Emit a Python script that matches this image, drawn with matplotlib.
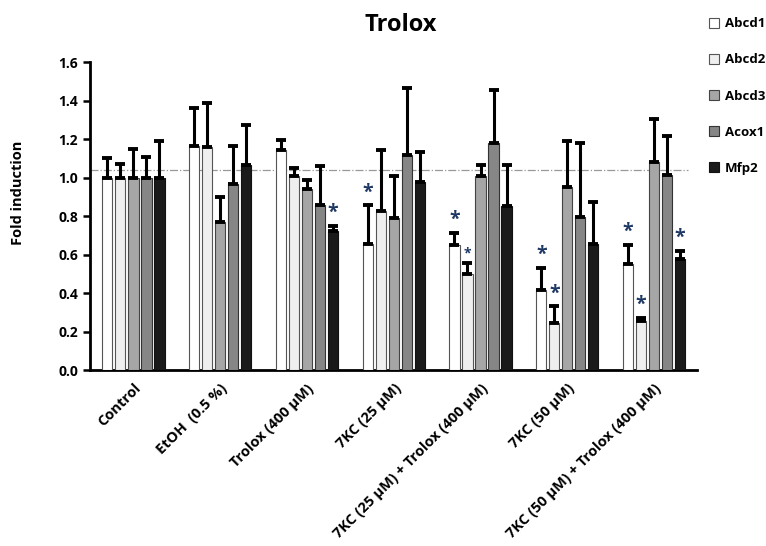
import numpy as np
import matplotlib.pyplot as plt
from matplotlib.patches import Patch

plt.rcParams['font.family'] = ['Open Sans', 'DejaVu Sans']

# conditions on the x axis
conditions = ['Control', 'EtOH  (0.5 %)', 'Trolox (400 µM)', '7KC (25 µM)',
              '7KC (25 µM) + Trolox (400 µM)', '7KC (50 µM)',
              '7KC (50 µM) + Trolox (400 µM)']
genes = ['Abcd1', 'Abcd2', 'Abcd3', 'Acox1', 'Mfp2']

# mean fold induction per gene (one value per condition)
abcd1 = [1.00, 1.165, 1.143, 0.658, 0.653, 0.419, 0.552]
abcd2 = [1.00, 1.16, 1.008, 0.826, 0.502, 0.244, 0.254]
abcd3 = [1.00, 0.77, 0.944, 0.791, 1.009, 0.952, 1.08]
acox1 = [1.00, 0.965, 0.857, 1.12, 1.179, 0.797, 1.013]
mfp2 = [1.00, 1.067, 0.724, 0.978, 0.854, 0.658, 0.578]

# upper error (SD)
abcd1_err = [0.10, 0.195, 0.052, 0.199, 0.062, 0.114, 0.099]
abcd2_err = [0.07, 0.23, 0.045, 0.32, 0.054, 0.088, 0.016]
abcd3_err = [0.15, 0.13, 0.046, 0.217, 0.059, 0.241, 0.224]
acox1_err = [0.11, 0.20, 0.203, 0.345, 0.276, 0.384, 0.204]
mfp2_err = [0.19, 0.209, 0.024, 0.158, 0.214, 0.216, 0.042]

# significance stars: (condition index, gene index, big?)
stars = [(2, 4, True), (3, 0, True), (4, 0, True), (4, 1, False),
         (5, 0, True), (5, 1, True), (6, 0, True), (6, 1, True), (6, 4, True)]

ref_line = 1.04

means = [abcd1, abcd2, abcd3, acox1, mfp2]
errs = [abcd1_err, abcd2_err, abcd3_err, acox1_err, mfp2_err]
colors = ['#ffffff', '#efefef', '#a6a6a6', '#868686', '#1a1a1a']
edges = ['#555555', '#555555', '#444444', '#333333', '#111111']

fig = plt.figure(figsize=(7.66, 5.46), dpi=100)
ax = fig.add_axes([0.1175, 0.322, 0.793, 0.564])

x = np.arange(len(conditions))
offsets = [-0.30, -0.15, 0.0, 0.15, 0.30]
width = 0.118

for k in range(len(genes)):
    ax.bar(x + offsets[k], means[k], width, color=colors[k], edgecolor=edges[k],
           linewidth=0.8, zorder=3,
           yerr=[np.zeros(len(x)), errs[k]],
           error_kw=dict(ecolor='black', elinewidth=2.2, capsize=3.5, capthick=2.8, zorder=4))

ax.axhline(ref_line, xmax=0.985, color='#999999', linestyle='-.', linewidth=0.9, zorder=2)

for ci, gi, big in stars:
    top = means[gi][ci] + errs[gi][ci]
    ax.text(x[ci] + offsets[gi], top + 0.015, '*', ha='center', va='bottom',
            fontsize=14 if big else 10, fontweight='bold', color='#1f3864', zorder=5)

ax.set_xlim(-0.5, len(conditions) - 0.5)
ax.set_ylim(0, 1.6)
ax.set_yticks(np.arange(0, 1.61, 0.2))
ax.set_yticklabels([f'{v:.1f}' for v in np.arange(0, 1.61, 0.2)], fontweight='bold', fontsize=10)
ax.set_xticks(x)
ax.set_xticklabels(conditions, rotation=45, ha='right', va='top', rotation_mode='anchor',
                   fontweight='bold', fontsize=10.5)
ax.tick_params(axis='x', length=0, pad=8)
ax.tick_params(axis='y', width=1.8, length=5, direction='out')
ax.set_ylabel('Fold induction', fontweight='bold', fontsize=10.5)
ax.yaxis.set_label_coords(-0.107, 0.575)

for side in ['top', 'right']:
    ax.spines[side].set_visible(False)
for side in ['left', 'bottom']:
    ax.spines[side].set_linewidth(2)

fig.text(0.523, 0.955, 'Trolox', ha='center', va='center', fontsize=17, fontweight='bold')

handles = [Patch(facecolor=colors[k], edgecolor=edges[k], linewidth=0.8) for k in range(len(genes))]
leg = fig.legend(handles, genes, loc='upper left', bbox_to_anchor=(0.91, 0.99),
                 frameon=False, handlelength=0.8, handleheight=0.8, handletextpad=0.4,
                 labelspacing=1.75, prop=dict(weight='bold', size=9.5))

fig.savefig('out.png', dpi=100)
